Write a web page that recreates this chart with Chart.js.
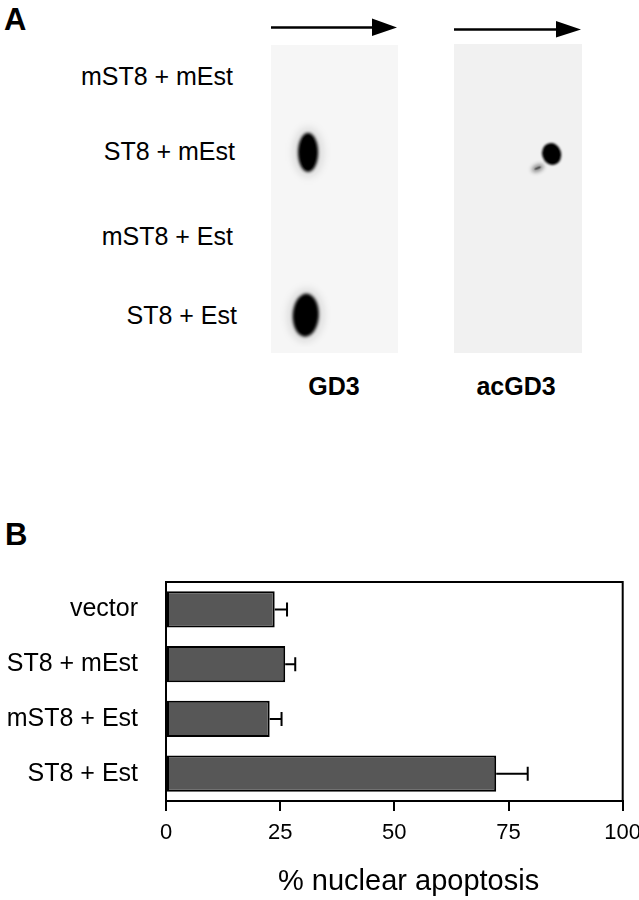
<!DOCTYPE html>
<html>
<head>
<meta charset="utf-8">
<script src="https://cdn.jsdelivr.net/npm/chart.js@4.4.1/dist/chart.umd.min.js"></script>
<style>
  html, body { margin: 0; padding: 0; background: #fff; }
  #page { position: relative; width: 639px; height: 900px; overflow: hidden; font-family: "Liberation Sans", Arial, sans-serif; color: #000; }
  .txt { position: absolute; white-space: nowrap; line-height: 1; }
  .panel { font-weight: bold; font-size: 31px; }
  .lane { font-size: 25px; text-align: right; }
  .plateName { font-weight: bold; font-size: 25px; transform: translateX(-50%); }
  canvas { position: absolute; }
</style>
</head>
<body>
<div id="page">
  <div class="txt panel" style="left:4px; top:4px;">A</div>
  <div class="txt panel" style="left:5px; top:519px;">B</div>

  <svg style="position:absolute;left:0;top:0" width="639" height="60">
    <line x1="271" y1="27.5" x2="376" y2="27.5" stroke="#000" stroke-width="2.6"/>
    <polygon points="372,18.5 397,27.5 372,36" fill="#000"/>
    <line x1="454" y1="29.5" x2="560" y2="29.5" stroke="#000" stroke-width="2.6"/>
    <polygon points="556,21 581,29.5 556,37.5" fill="#000"/>
  </svg>

  <div id="laneLabels"></div>

  <canvas id="plateGD3" width="127" height="308" style="left:271px; top:45px; background:#f6f6f6;"></canvas>
  <canvas id="plateAc" width="128" height="309" style="left:454px; top:44px; background:#f1f1f1;"></canvas>

  <div class="txt plateName" style="left:334px; top:374px;">GD3</div>
  <div class="txt plateName" style="left:516px; top:374px;">acGD3</div>

  <canvas id="barChart" width="639" height="340" style="left:0; top:560px;"></canvas>
  <div class="txt" id="xTitle" style="left:278px; top:866px; font-size:29px;">% nuclear apoptosis</div>
</div>

<script>
// ---------- Panel A data ----------
const laneLabels = ['mST8 + mEst', 'ST8 + mEst', 'mST8 + Est', 'ST8 + Est'];
const plateNames = ['GD3', 'acGD3'];
// spots: migration (fraction of plate length) and lane position (0 = top lane)
const gd3SpotMigration = [0.27, 0.25];
const gd3SpotLane = [0.87, 3.07];
const acSpotMigration = [0.79, 0.67];
const acSpotLane = [0.9, 1.09];

// ---------- Panel B data ----------
const categories = ['vector', 'ST8 + mEst', 'mST8 + Est', 'ST8 + Est'];
const apoptosis = [23.8, 26.1, 22.7, 72.3];
const apoptosisErr = [2.7, 2.2, 2.6, 6.9];
const xTicks = [0, 25, 50, 75, 100];

// ---------- lane labels (layout) ----------
const laneCenters = [76.7, 151.7, 236, 315];
const laneRights = [233, 235, 233, 237];
const laneHolder = document.getElementById('laneLabels');
laneLabels.forEach((t, i) => {
  const d = document.createElement('div');
  d.className = 'txt lane';
  d.textContent = t;
  d.style.right = (639 - laneRights[i]) + 'px';
  d.style.top = (laneCenters[i] - 25 * 0.4885) + 'px';
  laneHolder.appendChild(d);
});

// ---------- spot images ----------
function spotImage(w, h, blur, color, halo, rot) {
  const pad = Math.ceil(blur * 3 + (halo ? 8 : 0));
  const c = document.createElement('canvas');
  c.width = Math.ceil(w + 2 * pad);
  c.height = Math.ceil(h + 2 * pad);
  const g = c.getContext('2d');
  const cx = c.width / 2, cy = c.height / 2;
  if (halo) {
    g.filter = 'blur(4px)';
    g.fillStyle = 'rgba(0,0,0,0.12)';
    g.beginPath();
    g.ellipse(cx, cy, w / 2 + 5, h / 2 + 5, rot || 0, 0, Math.PI * 2);
    g.fill();
  }
  g.filter = 'blur(' + blur + 'px)';
  g.fillStyle = color;
  g.beginPath();
  g.ellipse(cx, cy, w / 2, h / 2, rot || 0, 0, Math.PI * 2);
  g.fill();
  g.filter = 'none';
  g.beginPath();
  g.ellipse(cx, cy, Math.max(w / 2 - blur * 1.5, 1), Math.max(h / 2 - blur * 1.5, 1), rot || 0, 0, Math.PI * 2);
  g.fill();
  return c;
}

const gd3Styles = [spotImage(20, 39, 1.6, '#000', true, 0), spotImage(26, 43, 1.8, '#000', true, 0.05)];
const acStyles = [spotImage(19, 22, 1.2, '#000', false, -0.3), spotImage(13, 7, 2, 'rgba(0,0,0,0.45)', false, -0.4)];

function plateChart(id, mig, lane, styles) {
  return new Chart(document.getElementById(id), {
    type: 'scatter',
    data: {
      datasets: [{
        data: mig.map((m, i) => ({ x: m, y: lane[i] })),
        pointStyle: styles,
        pointRadius: 5
      }]
    },
    options: {
      responsive: false,
      animation: false,
      layout: { padding: 0 },
      plugins: { legend: { display: false }, tooltip: { enabled: false } },
      events: [],
      scales: {
        x: { display: false, min: 0, max: 1 },
        y: { display: false, min: -0.5, max: 3.5, reverse: true }
      }
    }
  });
}
plateChart('plateGD3', gd3SpotMigration, gd3SpotLane, gd3Styles);
plateChart('plateAc', acSpotMigration, acSpotLane, acStyles);

// ---------- Panel B chart ----------
const framePlugin = {
  id: 'frame',
  afterDatasetsDraw(chart) {
    const { ctx, chartArea: a } = chart;
    ctx.save();
    ctx.strokeStyle = '#000';
    ctx.lineWidth = 2;
    ctx.beginPath();
    ctx.moveTo(a.left, a.bottom);
    ctx.lineTo(a.left, a.top);
    ctx.lineTo(a.right, a.top);
    ctx.lineTo(a.right, a.bottom);
    ctx.lineTo(a.left, a.bottom);
    ctx.stroke();
    ctx.restore();
  }
};
const errorBarPlugin = {
  id: 'errorBars',
  afterDatasetsDraw(chart) {
    const { ctx } = chart;
    const xs = chart.scales.x;
    const meta = chart.getDatasetMeta(0);
    ctx.save();
    ctx.strokeStyle = '#000';
    ctx.lineWidth = 2;
    meta.data.forEach((bar, i) => {
      const x0 = xs.getPixelForValue(apoptosis[i]);
      const x1 = xs.getPixelForValue(apoptosis[i] + apoptosisErr[i]);
      const y = bar.y;
      ctx.beginPath();
      ctx.moveTo(x0, y);
      ctx.lineTo(x1, y);
      ctx.moveTo(x1, y - 7);
      ctx.lineTo(x1, y + 7);
      ctx.stroke();
    });
    ctx.restore();
  }
};

function zeroPad(s) { s.paddingLeft = 0; s.paddingRight = 0; s.paddingTop = 0; s.paddingBottom = 0; }

new Chart(document.getElementById('barChart'), {
  type: 'bar',
  data: {
    labels: categories,
    datasets: [{
      data: apoptosis,
      backgroundColor: '#575757',
      borderColor: '#000',
      borderWidth: 2,
      borderSkipped: false,
      barPercentage: 0.66,
      categoryPercentage: 1
    }]
  },
  options: {
    indexAxis: 'y',
    responsive: false,
    animation: false,
    events: [],
    layout: { padding: { top: 22, left: 0, right: 16.3, bottom: 0 } },
    plugins: { legend: { display: false }, tooltip: { enabled: false } },
    scales: {
      x: {
        min: 0, max: 100,
        afterBuildTicks(s) { s.ticks = xTicks.map(v => ({ value: v })); },
        afterFit(s) { s.height = 99; zeroPad(s); },
        grid: { display: true, drawOnChartArea: false, drawTicks: true, tickLength: 10, color: '#000', lineWidth: 2 },
        border: { display: true, color: '#000', width: 2 },
        ticks: { color: '#000', font: { family: '"Liberation Sans", Arial, sans-serif', size: 22 }, padding: 9, maxRotation: 0 }
      },
      y: {
        afterFit(s) { s.width = 166; zeroPad(s); },
        grid: { display: false, drawTicks: false },
        border: { display: true, color: '#000', width: 2 },
        ticks: { color: '#000', font: { family: '"Liberation Sans", Arial, sans-serif', size: 25 }, padding: 28 }
      }
    }
  },
  plugins: [framePlugin, errorBarPlugin]
});
</script>
</body>
</html>
